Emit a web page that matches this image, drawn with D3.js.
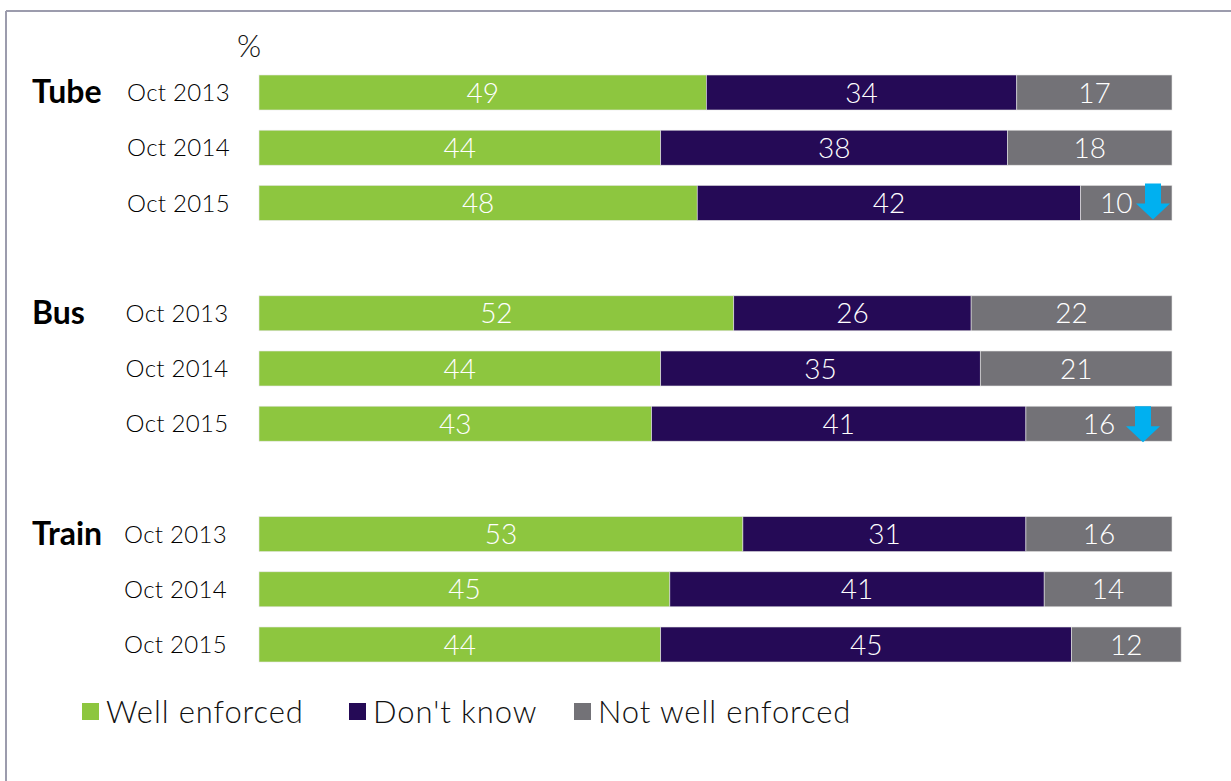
<!DOCTYPE html>
<html>
<head>
<meta charset="utf-8">
<script src="https://cdn.jsdelivr.net/npm/d3@7"></script>
<style>
  html, body { margin: 0; padding: 0; background: #fff; }
  svg { display: block; font-family: "Lato", "Open Sans", sans-serif; }
</style>
</head>
<body>
<svg id="chart" width="1231" height="781"></svg>
<script>
// Survey: is the rule well enforced? (%)
const modes = ["Tube", "Bus", "Train"];
const waves = ["Oct 2013", "Oct 2014", "Oct 2015"];
const seriesNames = ["Well enforced", "Don't know", "Not well enforced"];
const seriesColors = ["#8dc63f", "#250a56", "#737277"];

const wellEnforced    = [49, 44, 48,  52, 44, 43,  53, 45, 44];
const dontKnow        = [34, 38, 42,  26, 35, 41,  31, 41, 45];
const notWellEnforced = [17, 18, 10,  22, 21, 16,  16, 14, 12];

// rows flagged with a significant fall in "Not well enforced"
const fallFlags = ["Tube|Oct 2015", "Bus|Oct 2015"];

const svg = d3.select("#chart");
const W = 1231, H = 781;

// panel frame (top and left edges)
svg.append("line").attr("x1", 6).attr("x2", W).attr("y1", 11).attr("y2", 11)
  .attr("stroke", "#9c9cad").attr("stroke-width", 2);
svg.append("line").attr("x1", 6).attr("x2", 6).attr("y1", 11).attr("y2", H)
  .attr("stroke", "#9c9cad").attr("stroke-width", 2);

// build rows: each mode has three waves, with an empty slot between modes
const rows = [];
modes.forEach((m, mi) => {
  waves.forEach((w, wi) => {
    const i = mi * waves.length + wi;
    rows.push({ key: m + "|" + w, mode: m, wave: w, mi,
      flagged: fallFlags.includes(m + "|" + w),
      values: [wellEnforced[i], dontKnow[i], notWellEnforced[i]] });
  });
});
const domain = [];
modes.forEach((m, mi) => {
  if (mi > 0) domain.push("gap" + mi);
  waves.forEach(w => domain.push(m + "|" + w));
});

const y = d3.scaleBand().domain(domain).range([75, 662])
  .paddingInner(0.366).paddingOuter(0);
const x = d3.scaleLinear().domain([0, 100]).range([259, 1172]);

// stacked segments
rows.forEach(r => {
  let acc = 0;
  r.segs = r.values.map((v, k) => {
    const s = { x0: acc, x1: acc + v, v, k, flagged: r.flagged && k === 2 };
    acc += v;
    return s;
  });
});

const rowG = svg.append("g").selectAll("g").data(rows).join("g")
  .attr("transform", d => `translate(0,${y(d.key)})`);

rowG.selectAll("rect").data(d => d.segs).join("rect")
  .attr("x", s => x(s.x0))
  .attr("width", s => x(s.x1) - x(s.x0))
  .attr("y", 0)
  .attr("height", y.bandwidth())
  .attr("fill", s => seriesColors[s.k])
  .attr("stroke", "#e6e6e6").attr("stroke-width", 0.6);

// value labels; a narrow flagged segment shifts its label left of the arrow
rowG.selectAll("text.val").data(d => d.segs).join("text")
  .attr("class", "val")
  .attr("x", s => (x(s.x0) + x(s.x1)) / 2 - (s.flagged && x(s.x1) - x(s.x0) < 120 ? 10 : 0))
  .attr("y", y.bandwidth() / 2)
  .attr("dy", "0.36em")
  .attr("text-anchor", "middle")
  .attr("fill", "#fff")
  .attr("font-size", 28)
  .attr("font-weight", 300)
  .text(s => s.v);

// wave labels
rowG.append("text")
  .attr("x", d => 230 - d.mi * 1.5)
  .attr("y", y.bandwidth() / 2)
  .attr("dy", "0.36em")
  .attr("text-anchor", "end")
  .attr("font-size", 24)
  .attr("font-weight", 300)
  .attr("letter-spacing", 0.3)
  .attr("fill", "#000")
  .text(d => d.wave);

// mode labels beside the first wave of each mode
svg.append("g").selectAll("text").data(modes).join("text")
  .attr("x", 32)
  .attr("y", m => y(m + "|" + waves[0]) + y.bandwidth() / 2 - 1)
  .attr("dy", "0.36em")
  .attr("font-size", 32)
  .attr("font-weight", 700)
  .attr("fill", "#000")
  .text(m => m);

// down arrows for flagged rows
const arrow = "M-8,0 H8 V20 H17 L0,36 L-17,20 H-8 Z";
svg.append("g").selectAll("path").data(rows.filter(r => r.flagged)).join("path")
  .attr("d", arrow)
  .attr("fill", "#00b0f0")
  .attr("transform", (d, i) => `translate(${x(100) - (i === 0 ? 19 : 29)},${y(d.key) - (i === 0 ? 2 : 0)})`);

// unit label
svg.append("text").attr("x", 237).attr("y", 57)
  .attr("font-size", 31).attr("font-weight", 300).attr("fill", "#111").text("%");

// legend
const legendX = [82, 349, 574];
const lg = svg.append("g").selectAll("g").data(seriesNames).join("g")
  .attr("transform", (d, i) => `translate(${legendX[i]},703)`);
lg.append("rect").attr("width", 17).attr("height", 17)
  .attr("fill", (d, i) => seriesColors[i]);
lg.append("text").attr("x", 24).attr("y", 9).attr("dy", "0.36em")
  .attr("font-size", 31).attr("font-weight", 300).attr("letter-spacing", 0.9)
  .attr("fill", "#111").text(d => d);
</script>
</body>
</html>
